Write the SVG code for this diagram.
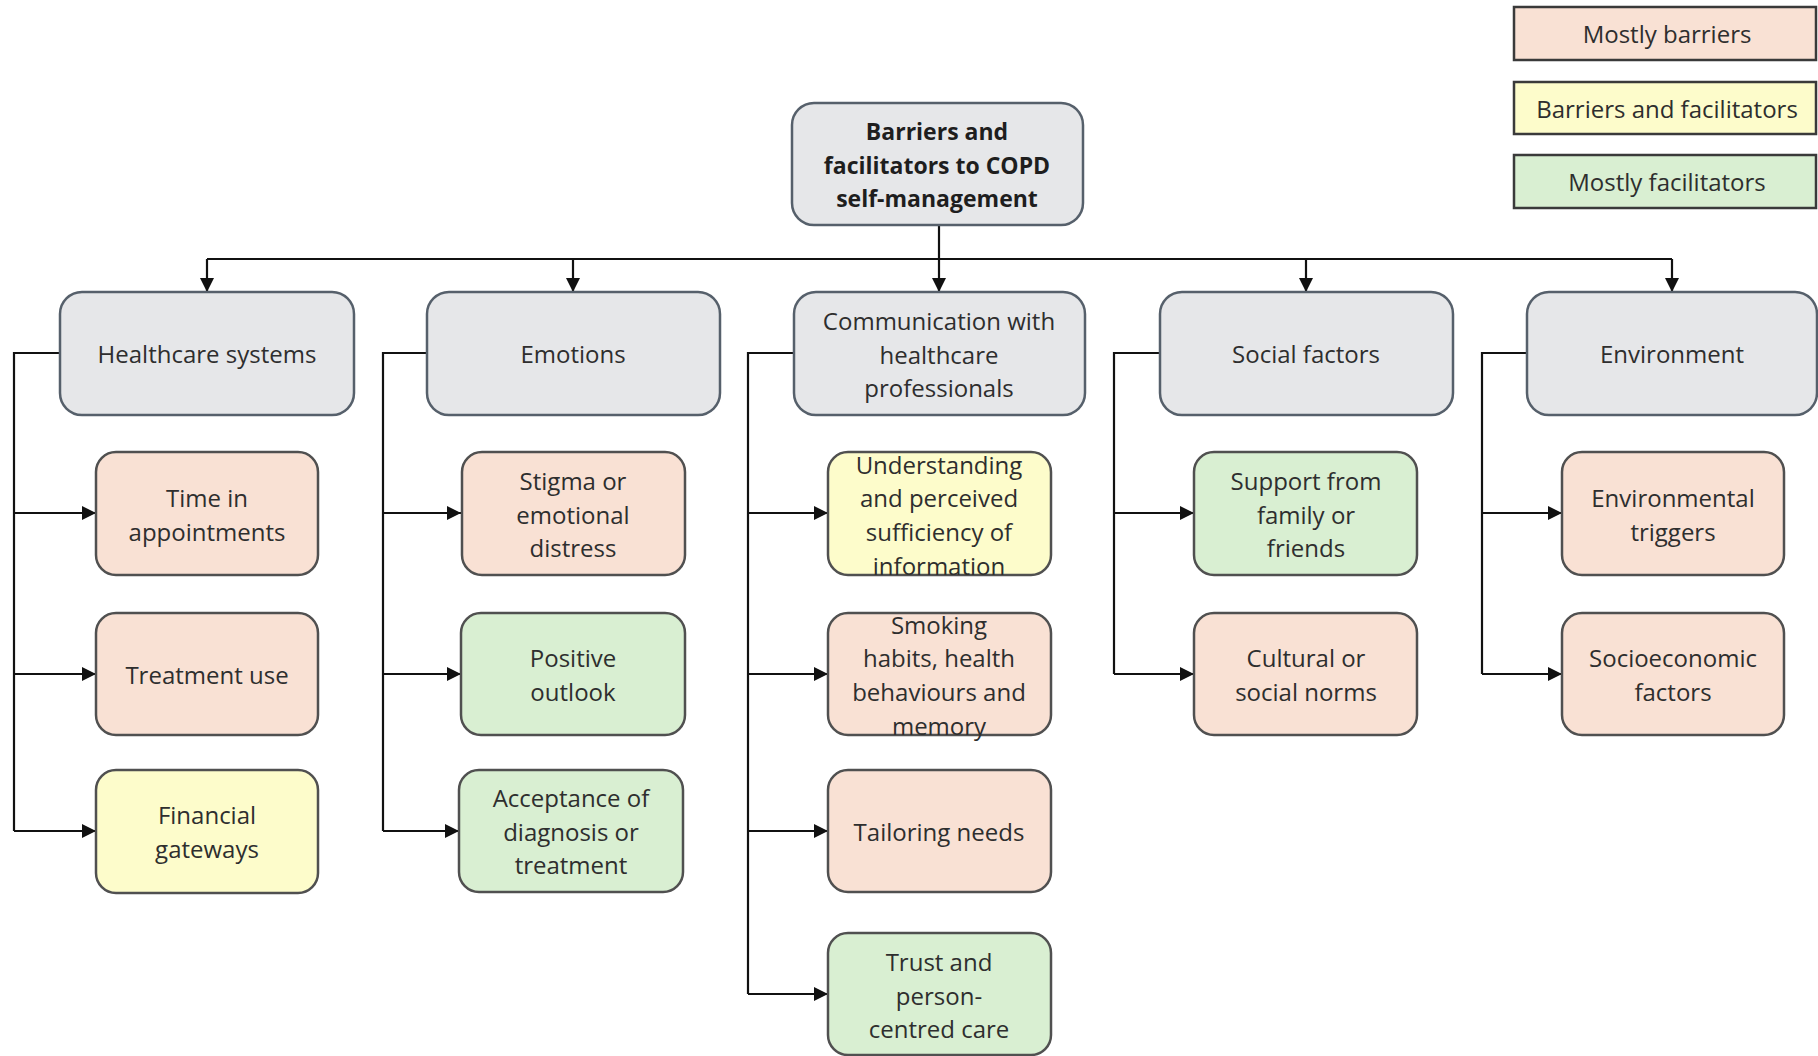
<svg xmlns="http://www.w3.org/2000/svg" width="1818" height="1056" viewBox="0 0 1818 1056">
<defs>
<marker id="ah" viewBox="0 0 14 14" refX="14" refY="7" markerWidth="14" markerHeight="14" markerUnits="userSpaceOnUse" orient="auto">
<path d="M0,0 L14,7 L0,14 Z" fill="#111"/>
</marker>
</defs>
<style>
text{font-family:"Open Sans","Noto Sans",sans-serif;font-size:24px;fill:#2e2e2e;text-anchor:middle;dominant-baseline:central}
.b{font-weight:bold;font-size:23px;fill:#1e1e1e}
.cat{fill:#e6e7e9;stroke:#56606b;stroke-width:2.5}
.bar{fill:#f9e1d4;stroke:#505050;stroke-width:2.5}
.mix{fill:#fdfccb;stroke:#505050;stroke-width:2.5}
.fac{fill:#d9efd2;stroke:#505050;stroke-width:2.5}
.leg{stroke:#3a3a3a;stroke-width:2.5}
.c{fill:none;stroke:#111;stroke-width:2.2}
.c path.a{marker-end:url(#ah)}
</style>
<rect width="1818" height="1056" fill="#fff"/>

<g id="connectors" class="c">
<path d="M939,225 V259"/>
<path d="M207,259 H1672"/>
<path class="a" d="M207,259 V292"/>
<path class="a" d="M573,259 V292"/>
<path class="a" d="M939,259 V292"/>
<path class="a" d="M1306,259 V292"/>
<path class="a" d="M1672,259 V292"/>
<path d="M60,353 H14 V831"/>
<path class="a" d="M14,513 H96"/>
<path class="a" d="M14,674 H96"/>
<path class="a" d="M14,831 H96"/>
<path d="M427,353 H383 V831"/>
<path class="a" d="M383,513 H461"/>
<path class="a" d="M383,674 H461"/>
<path class="a" d="M383,831 H459"/>
<path d="M794,353 H748 V994"/>
<path class="a" d="M748,513 H828"/>
<path class="a" d="M748,674 H828"/>
<path class="a" d="M748,831 H828"/>
<path class="a" d="M748,994 H828"/>
<path d="M1160,353 H1114 V674"/>
<path class="a" d="M1114,513 H1194"/>
<path class="a" d="M1114,674 H1194"/>
<path d="M1527,353 H1482 V674"/>
<path class="a" d="M1482,513 H1562"/>
<path class="a" d="M1482,674 H1562"/>
</g>

<g id="legend-barriers"><rect class="leg" x="1514" y="7" width="302" height="53" fill="#f9e1d4"/><text x="1667" y="33">Mostly barriers</text></g>
<g id="legend-mixed"><rect class="leg" x="1514" y="82" width="302" height="52" fill="#fdfccb"/><text x="1667" y="108">Barriers and facilitators</text></g>
<g id="legend-facilitators"><rect class="leg" x="1514" y="155" width="302" height="53" fill="#d9efd2"/><text x="1667" y="181">Mostly facilitators</text></g>

<g id="root"><rect class="cat" x="792" y="103" width="291" height="122" rx="22"/>
<text class="b" x="937" y="131">Barriers and</text><text class="b" x="937" y="165">facilitators to COPD</text><text class="b" x="937" y="198">self-management</text></g>

<g id="healthcare"><rect class="cat" x="60" y="292" width="294" height="123" rx="22"/><text x="207" y="353">Healthcare systems</text></g>
<g id="emotions"><rect class="cat" x="427" y="292" width="293" height="123" rx="22"/><text x="573" y="353">Emotions</text></g>
<g id="communication"><rect class="cat" x="794" y="292" width="291" height="123" rx="22"/><text x="939" y="320">Communication with</text><text x="939" y="354">healthcare</text><text x="939" y="387">professionals</text></g>
<g id="social"><rect class="cat" x="1160" y="292" width="293" height="123" rx="22"/><text x="1306" y="353">Social factors</text></g>
<g id="environment"><rect class="cat" x="1527" y="292" width="290" height="123" rx="22"/><text x="1672" y="353">Environment</text></g>

<g id="time-appointments"><rect class="bar" x="96" y="452" width="222" height="123" rx="20"/><text x="207" y="497">Time in</text><text x="207" y="531">appointments</text></g>
<g id="treatment-use"><rect class="bar" x="96" y="613" width="222" height="122" rx="20"/><text x="207" y="674">Treatment use</text></g>
<g id="financial"><rect class="mix" x="96" y="770" width="222" height="123" rx="20"/><text x="207" y="814">Financial</text><text x="207" y="848">gateways</text></g>

<g id="stigma"><rect class="bar" x="462" y="452" width="223" height="123" rx="20"/><text x="573" y="480">Stigma or</text><text x="573" y="514">emotional</text><text x="573" y="547">distress</text></g>
<g id="positive"><rect class="fac" x="461" y="613" width="224" height="122" rx="20"/><text x="573" y="657">Positive</text><text x="573" y="691">outlook</text></g>
<g id="acceptance"><rect class="fac" x="459" y="770" width="224" height="122" rx="20"/><text x="571" y="797">Acceptance of</text><text x="571" y="831">diagnosis or</text><text x="571" y="864">treatment</text></g>

<g id="understanding"><rect class="mix" x="828" y="452" width="223" height="123" rx="20"/><text x="939" y="464">Understanding</text><text x="939" y="497">and perceived</text><text x="939" y="531">sufficiency of</text><text x="939" y="565">information</text></g>
<g id="smoking"><rect class="bar" x="828" y="613" width="223" height="122" rx="20"/><text x="939" y="624">Smoking</text><text x="939" y="657">habits, health</text><text x="939" y="691">behaviours and</text><text x="939" y="725">memory</text></g>
<g id="tailoring"><rect class="bar" x="828" y="770" width="223" height="122" rx="20"/><text x="939" y="831">Tailoring needs</text></g>
<g id="trust"><rect class="fac" x="828" y="933" width="223" height="122" rx="20"/><text x="939" y="961">Trust and</text><text x="939" y="995">person-</text><text x="939" y="1028">centred care</text></g>

<g id="support"><rect class="fac" x="1194" y="452" width="223" height="123" rx="20"/><text x="1306" y="480">Support from</text><text x="1306" y="514">family or</text><text x="1306" y="547">friends</text></g>
<g id="cultural"><rect class="bar" x="1194" y="613" width="223" height="122" rx="20"/><text x="1306" y="657">Cultural or</text><text x="1306" y="691">social norms</text></g>

<g id="env-triggers"><rect class="bar" x="1562" y="452" width="222" height="123" rx="20"/><text x="1673" y="497">Environmental</text><text x="1673" y="531">triggers</text></g>
<g id="socioeconomic"><rect class="bar" x="1562" y="613" width="222" height="122" rx="20"/><text x="1673" y="657">Socioeconomic</text><text x="1673" y="691">factors</text></g>
</svg>
